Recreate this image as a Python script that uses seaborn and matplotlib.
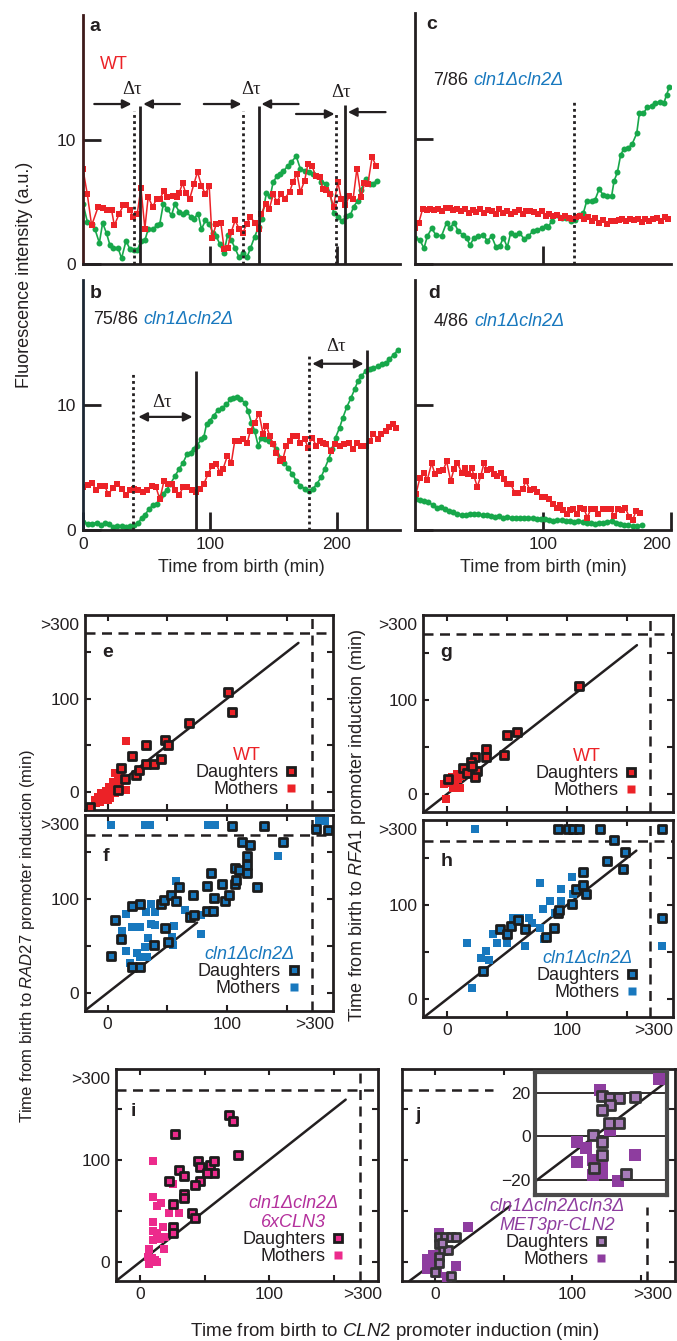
import numpy as np
import pandas as pd
import seaborn as sns
import matplotlib.pyplot as plt
from matplotlib.lines import Line2D
from matplotlib.font_manager import FontProperties

# ---------------- data: time courses (minutes, fluorescence a.u.) ----------------
a_red_t = [0, 3.4, 6.8, 12, 16, 19, 22.6, 24.7, 28.6, 31.8, 34, 37, 39.6, 42.8, 45.7, 48.8, 51.4, 54.9, 58, 60.6,
           63.8, 66.4, 70.6, 73.8, 75.9, 78.5, 81, 84, 87.4, 90.3, 93.4, 96.6, 99.5, 101.8, 105, 108.7, 111.3, 114, 117, 120,
           123, 126, 129, 132, 135.4, 138.6, 140.7, 144, 147, 150, 153, 156.4, 159, 163, 165.6, 168.8, 171.4, 174.8, 177.4, 180.6,
           183.5, 186.6, 189.2, 191.9, 194.5, 197.6, 201, 203.7, 207, 210, 213, 216, 219.4, 222, 224.7, 228, 231]
a_red_v = [7.6, 5.6, 3.1, 4.6, 4.5, 4.3, 4.3, 3.1, 4.05, 4.7, 4.75, 4.3, 3.8, 4.05, 6.1, 2.85, 5.4, 4.6, 5.2, 5.2,
           5.9, 5.4, 5.5, 5.4, 5.7, 6.5, 5.7, 5.2, 6.4, 7.4, 6.3, 5.6, 6.3, 2.05, 3.2, 3.3, 1.2, 1.25, 2.6, 3.5,
           2.85, 2.45, 3.2, 3.8, 3.3, 2.8, 4.05, 4.8, 4.45, 5.6, 5.0, 5.65, 5.25, 5.8, 6.6, 7.25, 5.8, 6.7, 8.05, 7.9,
           7.05, 7.0, 6.05, 5.95, 5.65, 4.6, 6.6, 5.2, 4.7, 5.5, 5.2, 7.65, 5.35, 6.5, 6.45, 8.6, 7.9]
a_grn_t = [0, 3.4, 6.8, 9.4, 12.9, 15.5, 18.6, 21.3, 23.9, 27.8, 30.4, 33.9, 37, 40, 42.8, 45.7, 48.8, 51.4, 55.4, 58,
           60.6, 63.3, 66.4, 69.8, 72.4, 75.9, 78.5, 81.6, 84.8, 87.4, 90.8, 93.4, 96.6, 99.5, 102.6, 105, 107.9, 111, 114, 117,
           120, 123, 126, 129.4, 132, 135.4, 138.6, 141, 144.6, 147.8, 150, 153, 155.6, 158, 161.7, 164.3, 168.2, 171.4, 174.8, 178.2,
           181.4, 184.5, 188, 191.9, 195, 197.6, 201, 204.5, 207.6, 210.8, 213.4, 216.8, 219.4, 222.8, 226, 229, 231.8]
a_grn_v = [4.85, 3.4, 3.2, 2.8, 1.7, 3.3, 2.45, 1.5, 1.25, 1.25, 0.45, 1.85, 1.2, 1.1, 1.1, 1.85, 1.9, 2.8, 2.8, 3.1,
           3.25, 4.8, 4.45, 3.9, 4.8, 4.2, 4.05, 4.2, 3.8, 3.65, 4.05, 2.8, 3.5, 3.25, 2.45, 2.25, 1.6, 0.85, 2.3, 1.9,
           1.25, 0.55, 0.85, 0.55, 1.25, 2.2, 3.0, 3.6, 5.7, 5.5, 6.6, 7.05, 7.2, 7.45, 7.9, 8.2, 8.65, 7.65, 7.5, 7.4,
           7.25, 7.1, 6.6, 6.45, 5.65, 4.1, 3.8, 3.45, 3.85, 3.9, 4.6, 5.1, 5.95, 6.85, 6.4, 6.45, 6.7]

b_red_t = [0.3, 3.7, 7.3, 10.2, 13.4, 17.3, 19.9, 23.9, 27, 30.4, 33.6, 37, 40.2, 43.6, 47, 50.1, 54.1, 57.5, 60.6, 63.8,
           67.2, 70.3, 72.4, 75.9, 79, 82.2, 85.6, 89, 92.1, 95.3, 98.7, 101.8, 105.2, 107.9, 110.5, 113.9, 117, 119.7, 123.1, 126.2,
           129.6, 132, 135.4, 138.8, 142, 144.6, 147.2, 149.9, 152.5, 155.6, 157.7, 160.4, 163, 165.6, 168.8, 171.4, 174.8, 177.4, 180.6, 184,
           186.6, 189.2, 191.9, 195.3, 198.4, 202.4, 205.8, 209.4, 212.9, 216.3, 219.4, 223.4, 226, 229.1, 232.5, 235.2, 238.6, 241.7, 244.4, 247]
b_red_v = [3.45, 3.6, 3.75, 3.2, 3.5, 3.5, 2.85, 3.4, 3.7, 3.3, 2.8, 3.2, 3.3, 3.2, 3.05, 3.2, 3.5, 3.45, 2.45, 3.9,
           3.7, 3.7, 3.2, 2.8, 3.45, 3.45, 3.2, 3.05, 3.3, 3.7, 4.5, 5.15, 5.3, 4.6, 4.9, 5.95, 5.4, 7.15, 7.15, 7.3,
           7.0, 7.95, 8.6, 9.3, 7.7, 8.35, 7.55, 6.9, 6.2, 5.55, 5.7, 6.75, 7.15, 7.55, 7.55, 7.0, 7.3, 6.6, 7.4, 6.75,
           7.15, 7.0, 6.9, 6.35, 6.9, 6.75, 6.9, 6.95, 6.5, 6.95, 6.75, 6.75, 7.15, 7.7, 7.3, 7.7, 7.95, 8.25, 8.45, 8.2]
b_grn_t = [0.3, 3.7, 7.3, 10.8, 13.9, 17.3, 20.7, 23.9, 27, 30.4, 33.9, 37, 40.2, 43.6, 46.2, 48.8, 52.2, 55.4, 58.5, 60.6,
           63.3, 65.9, 69, 72.4, 75.9, 79, 82.2, 84.8, 87.4, 90, 93.4, 95.3, 97.4, 100, 103.1, 106.6, 110, 113.1, 116.3, 118.4,
           121.5, 124.1, 127.6, 130.2, 132.8, 135.4, 138.1, 140.7, 143.3, 146.7, 149.9, 152.5, 155.6, 158.3, 161.7, 164.8, 168.2, 171.4, 174.8, 178.2,
           181.4, 184.5, 187.9, 190.6, 193.8, 196.6, 199.2, 202.4, 205, 208.1, 211.5, 214.2, 216.8, 219.4, 222.8, 226, 229.1, 232.5, 236, 239.1,
           241.7, 244.9, 248.3]
b_grn_v = [0.65, 0.5, 0.5, 0.6, 0.4, 0.55, 0.5, 0.25, 0.3, 0.3, 0.25, 0.3, 0.4, 0.55, 1.0, 1.2, 1.7, 2.0, 2.1, 2.65,
           2.9, 3.2, 3.7, 4.3, 4.9, 5.4, 6.1, 6.2, 6.5, 6.75, 7.3, 7.45, 8.45, 8.75, 9.15, 9.6, 9.8, 10.05, 10.45, 10.6,
           10.65, 10.45, 10.2, 9.5, 8.6, 7.95, 6.75, 7.4, 7.3, 7.15, 6.9, 6.5, 5.8, 5.4, 5.0, 4.5, 3.95, 3.55, 3.3, 3.15,
           3.3, 3.7, 4.25, 4.9, 5.7, 6.5, 7.4, 8.2, 9.0, 9.85, 10.6, 11.25, 11.9, 12.3, 12.7, 12.85, 12.95, 13.1, 13.25, 13.35,
           13.7, 14.0, 14.4]

c_red_t = [0, 3, 6, 9, 12, 15, 18, 21, 24, 27, 30, 33, 36, 39, 42, 45, 48, 51, 54, 57,
           60, 63, 66, 69, 72, 75, 78, 81, 84, 87, 90, 93, 96, 99, 102, 105, 108, 111, 114, 117,
           120, 123, 126, 129, 132, 135, 138, 141, 144, 147, 150, 153, 156, 159, 162, 165, 168, 171, 174, 177,
           180, 183, 186, 189, 192, 195, 198]
c_red_v = [2.9, 3.3, 4.4, 4.3, 4.35, 4.3, 4.4, 4.2, 4.45, 4.5, 4.3, 4.4, 4.2, 4.35, 4.1, 4.3, 4.15, 4.35, 4.1, 4.3,
           4.25, 4.0, 4.35, 4.1, 4.25, 3.95, 4.15, 4.3, 4.0, 4.25, 4.2, 4.15, 4.0, 4.2, 3.8, 3.95, 3.85, 3.9, 3.7, 3.85,
           3.7, 3.6, 3.75, 3.8, 3.6, 3.75, 3.45, 3.65, 3.3, 3.5, 3.2, 3.4, 3.45, 3.5, 3.55, 3.4, 3.6, 3.5, 3.55, 3.35,
           3.6, 3.4, 3.6, 3.7, 3.45, 3.75, 3.6]
c_grn_t = [0, 3.9, 7, 9.6, 13, 16.4, 20.8, 24.7, 27.3, 30.5, 33.9, 37.8, 40.4, 43, 46.1, 49.5, 53.4, 56.5, 59.9, 63.3,
           66.4, 69, 72.1, 74.7, 78.1, 81.5, 85.2, 88.5, 91.9, 95.6, 99, 102.3, 104.2, 106.8, 110.7, 114.6, 118, 121.6, 125, 128.4,
           131.5, 134.1, 138, 140.6, 143.8, 147.1, 150.3, 153.6, 155.5, 158.1, 160.7, 163.3, 166.7, 169.8, 173.2, 175.3, 178.4, 181.5, 184.9, 187.5,
           191.4, 194.5, 196.6, 198.7]
c_grn_v = [2.1, 1.9, 1.25, 2.2, 2.85, 2.3, 2.25, 3.3, 2.85, 3.3, 2.6, 2.3, 2.05, 1.5, 2.1, 2.2, 2.3, 1.85, 2.2, 1.35,
           1.45, 2.1, 1.35, 2.45, 2.3, 2.5, 2.0, 2.2, 2.6, 2.7, 2.85, 3.05, 2.95, 3.45, 3.9, 3.7, 3.65, 3.4, 3.5, 3.9,
           4.05, 5.0, 5.0, 5.1, 5.95, 5.5, 5.45, 5.4, 6.6, 7.3, 8.7, 9.2, 9.25, 9.6, 10.4, 12.0, 12.0, 12.5, 12.6, 12.85,
           12.9, 12.85, 13.5, 14.1]

d_red_t = [0.8, 3.9, 7, 9.6, 13, 15.6, 19, 22.1, 24.7, 27.9, 30.5, 33.1, 36.5, 39.1, 41.7, 44.3, 46.1, 48.7, 51.3, 53.9,
           56.5, 59.1, 61.7, 64.3, 66.9, 69.5, 72.1, 74.7, 78.1, 80.7, 84.1, 86.7, 89.8, 93, 95.6, 99, 101.6, 104.9, 108.1, 110.7,
           113.3, 115.9, 118.5, 121.1, 123.7, 126.3, 128.9, 132, 134.6, 137.2, 140.6, 143.2, 146.6, 149.7, 152.9, 155.5, 158.9, 161.5, 164.1, 167.4,
           170.1, 172.7, 175.8]
d_red_v = [2.9, 4.2, 4.6, 4.0, 5.35, 4.45, 4.75, 4.8, 5.5, 3.9, 4.9, 5.35, 4.6, 5.0, 4.45, 5.0, 4.3, 3.45, 4.3, 5.35,
           4.8, 4.9, 4.5, 4.35, 4.6, 4.1, 3.7, 3.7, 2.95, 2.95, 3.3, 3.9, 3.2, 3.3, 3.05, 2.65, 2.65, 2.5, 2.1, 1.8,
           2.0, 1.6, 1.3, 1.6, 1.65, 1.3, 1.8, 1.7, 1.0, 1.65, 1.65, 1.3, 1.65, 1.7, 1.7, 1.1, 1.7, 1.6, 1.8, 1.05,
           0.8, 1.55, 1.4]
d_grn_t = [0.8, 3.9, 7, 10.4, 13.8, 16.9, 20.1, 23.4, 26.8, 29.9, 33.1, 36.5, 39.8, 43, 46.1, 49.5, 52.9, 56, 59.1, 62.5,
           65.9, 69, 72.1, 75.5, 78.9, 82, 85.2, 88.5, 91.9, 95.1, 98.2, 101.6, 104.9, 108.1, 111.2, 114.6, 118, 121.1, 124.2, 127.6,
           131, 134.1, 137.2, 140.6, 144, 147.1, 150.3, 153.6, 157, 160.2, 163.3, 166.7, 170.1, 173.2, 177.1]
d_grn_v = [2.45, 2.4, 2.35, 2.25, 2.0, 1.8, 1.85, 1.65, 1.55, 1.45, 1.3, 1.2, 1.2, 1.3, 1.25, 1.25, 1.2, 1.2, 1.1, 1.05,
           1.1, 1.0, 1.05, 1.0, 1.0, 0.95, 1.0, 0.95, 0.95, 0.85, 0.9, 0.85, 0.8, 0.75, 0.8, 0.8, 0.75, 0.75, 0.65, 0.75,
           0.65, 0.55, 0.55, 0.5, 0.6, 0.55, 0.65, 0.75, 0.55, 0.5, 0.4, 0.4, 0.3, 0.3, 0.4]

# marked events (minutes): dotted = CLN2 induction, solid = second promoter
a_dotted, a_solid = [40.2, 126, 199.7], [44.9, 138.6, 207]
b_dotted, b_solid = [39.6, 178.2], [89.5, 224]
c_dotted = [124.2]

# ---------------- data: promoter timing scatter (minutes; ~180 stands for >300) ----------------
e_dx = [-15, 8.7, 10.9, 14.8, 20, 23.5, 26.3, 32.5, 32, 39, 45, 48, 50.7, 68.3, 101, 104]
e_dy = [-15.8, 2.2, 26, 14, 38.7, 18.3, 23, 50.5, 29.7, 29.7, 35, 56, 50, 74.5, 107, 86]
e_mx = [15.7, -11, -8, -5.3, -4, -1, 1, 1.7, 4.5, 5.9, 7.3, 3, 6, 8.7, 11.5, 15.7, -6.7, -2.5, 0.3, 10, -9.5]
e_my = [55, -8.6, -5, -1.4, -8.6, 0.4, 5.7, -6.8, 11, -1.4, 7.5, 2, 20, 13, 16.5, 2.2, -10.4, -5, -8.6, 5.7, -12]

g_dx = [110, 49.7, 58, 47, 32, 32, 23, 20, 13.6, 25, 23, 17, 20.5, 1]
g_dy = [114.5, 63, 66, 42, 48, 39, 39, 33.7, 28, 24, 18.4, 22, 30, 16]
g_mx = [-1, 0, 2.5, 6.7, 9.4, 5.3, 10.8, 12, 15, 8, 4, -2.5, 16.4]
g_my = [-5, 11.7, 13, 9.6, 16, 6, 6, 19.5, 23.8, 21, 17.7, 10.6, 22.3]

f_dx = [5.9, 11.5, 3, 20.7, 27, 20.7, 27, 38.7, 48, 50.7, 45, 47, 53.5, 57, 60, 71.7, 69, 72, 83.5, 87,
        83, 88, 89, 95.5, 98, 102, 107, 107, 108, 110, 113, 119, 116.5, 116.5, 116.5, 125.5, 147, 104, 131, 175, 185]
f_dy = [77.7, 57, 39.4, 92.6, 94.7, 28, 28, 51, 68.8, 54, 95.4, 99, 104, 98, 113, 104, 80.5, 83, 114, 128,
        87, 87, 101, 116, 98, 104, 116, 133.7, 121, 131, 161, 158, 146, 137, 128, 113, 161, 178.5, 178.5, 175, 174.5]
f_mx = [15.7, 12.3, 20.7, 27.5, 15.7, 18.5, 24.6, 31, 34, 33, 36.7, 32.5, 40, 39.5, 36, 57, 54.3, 56, 55, 64.7,
        78, 78.7, 143, 27, 3, 31, 35.6, 84, 90, 177, 182]
f_my = [84, 66, 70, 70, 45, 31.6, 42, 49, 58, 38.7, 95.4, 86.5, 86.5, 72, 73, 119.5, 60, 71, 51, 88,
        63, 83, 146, 38.7, 179, 179, 179, 179, 179, 184, 184]

h_dx = [29.7, 44, 50, 53, 59, 65, 82.5, 88.6, 92, 92.8, 104, 107.5, 113, 113, 115.8, 133, 139, 148, 146, 92,
        101, 105, 109.4, 127.5, 179, 179]
h_dy = [29.8, 74.8, 68.8, 77.7, 83.7, 74, 66, 75, 91, 94, 101, 116.7, 121, 135, 111, 147, 169, 155.7, 138, 180,
        180, 180, 180, 180, 180, 86.5]
h_mx = [16.4, 20.5, 28, 32.5, 35, 38, 41.4, 50, 55, 61, 65, 67.8, 70.5, 77, 77.5, 79.7, 80.8, 85.8, 90, 94.7,
        94.7, 104, 105, 111, 23.3, 179]
h_my = [60, 12, 44, 51, 42, 68.8, 60, 60, 86.5, 86, 56.4, 86, 81, 122.7, 75, 95.4, 63.5, 104, 91.8, 104,
        116.7, 129, 112, 115.6, 180, 56.4]

i_dx = [27, 69, 72, 76, 45, 46, 54, 57, 57, 52, 30.5, 34, 46, 42.6, 22, 34, 34, 25.3, 40, 42.6, 25.3, 25.3]
i_dy = [125.5, 144, 137.6, 105, 99, 93, 95, 99, 87.6, 87.6, 90, 84, 79, 75.5, 79, 66.7, 62.4, 57, 48.4, 42.8, 34, 28.8]
i_mx = [9.8, 10.3, 13, 16, 22, 30.5, 10.3, 10.3, 9.8, 13, 18, 15.5, 19.4, 18.6, 7.2, 6.5, 7.2, 11.6, 13.4, 9, 25.8]
i_my = [99, 63.4, 55, 57.5, 48.4, 48.4, 39.5, 30.7, 21.6, 28, 34.6, 23, 24.8, 12.4, 12.4, 5.2, -2, 2, 0.3, 3.6, 76.5]

j_dx = [3.2, 7.3, 11.4, 15.3, 3.2, 6, 9.7, 3.2, 3.2, 0, 12, 4.9]
j_dy = [24, 24, 24, 24, 18, 12, 12, 5, -1.3, -9.5, -13.7, 19]
j_mx = [24.3, 3.2, -6, -6, -1.2, -1.2, 15.3, 8.5, 1.2]
j_my = [34, 28, 2.6, -7, 7, -2, -4, -14.4, -11]
jin_dx = [-0.5, 2.4, 5.3, 8.5, 14, 5.3, 2.4, 5.1, 8.5, 2.4, 2.4, -0.3, 11]
jin_dy = [0.5, 18.3, 17.7, 17.7, 18, 14.2, 12.2, 6.1, 6.1, -2.6, -8.7, -14.4, -17.4]
jin_mx = [22.4, 1.8, 5.3, -6.1, -3, -6.1, -0.7, 2.7, -0.5, 2.4, 8.2, 14]
jin_my = [26.4, 21.4, 2.7, -2.6, -5.6, -11.8, -11, -13.7, -17.9, -16.8, -20.5, -8.7]

# ---------------- style ----------------
INK = '#231f20'
RED = '#ec2227'
GREEN = '#17a74a'
BLUE = '#1878be'
PINK = '#ec2b8c'
PINK_TXT = '#b4309c'
PURPLE = '#8e3d9f'
PURPLE_LT = '#a77bb9'

sns.set_theme(style='ticks')
plt.rcParams['font.family'] = ['Liberation Sans', 'DejaVu Sans']
plt.rcParams['mathtext.fontset'] = 'custom'
plt.rcParams['mathtext.rm'] = 'Liberation Sans'
plt.rcParams['mathtext.it'] = 'Liberation Sans:italic'
plt.rcParams['text.color'] = INK
plt.rcParams['xtick.color'] = INK
plt.rcParams['ytick.color'] = INK

W, H = 677, 1341
fig = plt.figure(figsize=(W / 100, H / 100), dpi=100)


def frame(l, t, r, b):
    return [l / W, 1 - b / H, (r - l) / W, (b - t) / H]


def trace(ax, rt, rv, gt, gv, xmax):
    sns.lineplot(x=gt, y=gv, ax=ax, color=GREEN, marker='o', markersize=4.3, markeredgewidth=0,
                 linewidth=1.2, estimator=None, sort=False)
    sns.lineplot(x=rt, y=rv, ax=ax, color=RED, marker='s', markersize=3.8, markeredgewidth=0,
                 linewidth=1.1, estimator=None, sort=False)
    ax.set_xlim(0, xmax)
    ax.set_ylim(0, 20)
    sns.despine(ax=ax)
    for s in ['left', 'bottom']:
        ax.spines[s].set_linewidth(2)
        ax.spines[s].set_color(INK)
    ax.tick_params(direction='in', length=13, width=2, labelsize=12.5, pad=5)
    ax.set(xlabel='', ylabel='')
    ax.set_facecolor('none')


def vmarks(ax, xs, top, style):
    ls = (0, (1, 1.2)) if style == 'dot' else '-'
    for x, t in zip(xs, top):
        ax.vlines(x, 0, t, colors=INK, linewidth=2, linestyles=ls)


def count_label(ax, x, y, count):
    t1 = ax.text(x, y, count, fontsize=13, ha='left', va='center')
    ax.annotate('cln1Δcln2Δ', xy=(1, 0), xycoords=t1, xytext=(4, 0), textcoords='offset points',
                ha='left', va='bottom', fontsize=13, style='italic', color=BLUE)


tau_font = dict(family=['Liberation Serif', 'DejaVu Serif'], fontsize=13.5, ha='center', va='center')

# panel a
ax = fig.add_axes(frame(83, 15, 400, 264))
trace(ax, a_red_t, a_red_v, a_grn_t, a_grn_v, 250)
ax.spines['left'].set_color('#3d1a1a')
ax.set_yticks([0, 10], labels=['0', '10'])
ax.set_xticks([100, 200], labels=['', ''])
vmarks(ax, a_dotted, [12.3, 12.3, 12.2], 'dot')
vmarks(ax, a_solid, [12.7, 12.7, 12.8], 'solid')
for x0, x1, y in [(8.9, 38.3, 12.85), (76.4, 47.5, 12.85), (95.3, 125, 12.85), (170, 140.7, 12.85),
                  (168, 198.4, 12.05), (238.6, 208.9, 12.2)]:
    ax.annotate('', xy=(x1, y), xytext=(x0, y),
                arrowprops=dict(arrowstyle='-|>', color=INK, lw=1.6, mutation_scale=13, shrinkA=0, shrinkB=0))
for x, y in [(38.3, 14.05), (132.8, 14.05), (203.7, 13.8)]:
    ax.text(x, y, 'Δτ', **tau_font)
ax.text(5, 19.1, 'a', fontsize=14, fontweight='bold', ha='left', va='center')
ax.text(13.4, 16, 'WT', fontsize=13, color=RED, ha='left', va='center')

# panel b
ax = fig.add_axes(frame(83, 280, 400, 530))
trace(ax, b_red_t, b_red_v, b_grn_t, b_grn_v, 250)
ax.spines['left'].set_color('#1c2633')
ax.set_yticks([0, 10], labels=['0', '10'])
ax.set_xticks([0, 100, 200], labels=['0', '100', '200'])
vmarks(ax, b_dotted, [12.6, 14.2], 'dot')
vmarks(ax, b_solid, [12.7, 14.4], 'solid')
for x0, x1, y in [(43.6, 86.4, 9.05), (180.8, 221.3, 13.3)]:
    ax.annotate('', xy=(x1, y), xytext=(x0, y),
                arrowprops=dict(arrowstyle='<|-|>', color=INK, lw=1.6, mutation_scale=13, shrinkA=0, shrinkB=0))
for x, y in [(62, 10.2), (199.7, 14.7)]:
    ax.text(x, y, 'Δτ', **tau_font)
ax.text(5, 18.9, 'b', fontsize=14, fontweight='bold', ha='left', va='center')
count_label(ax, 8.1, 16.8, '75/86')
ax.set_xlabel('Time from birth (min)', fontsize=13, labelpad=5)

# panel c
ax = fig.add_axes(frame(415, 13, 671, 264))
trace(ax, c_red_t, c_red_v, c_grn_t, c_grn_v, 200)
ax.set_yticks([0, 10], labels=['', ''])
ax.set_xticks([100], labels=[''])
vmarks(ax, c_dotted, [13], 'dot')
ax.text(9, 19.1, 'c', fontsize=14, fontweight='bold', ha='left', va='center')
count_label(ax, 14.3, 14.6, '7/86')

# panel d
ax = fig.add_axes(frame(415, 280, 671, 530))
trace(ax, d_red_t, d_red_v, d_grn_t, d_grn_v, 200)
ax.set_yticks([0, 10], labels=['', ''])
ax.set_xticks([100, 200], labels=['100', '200'])
ax.get_xticklabels()[1].set_ha('right')
ax.text(10.4, 18.9, 'd', fontsize=14, fontweight='bold', ha='left', va='center')
count_label(ax, 14.3, 16.7, '4/86')
ax.set_xlabel('Time from birth (min)', fontsize=13, labelpad=5)

fig.text(25 / W, 1 - 275 / H, 'Fluorescence intensity (a.u.)', rotation=90, ha='center', va='center', fontsize=13)


# ---------------- scatter panels ----------------
def cells(ax, dx, dy, mx, my, face, dface, xlim, ylim, cut, diag_end, ox, show_x, show_y,
          s_d=38, s_m=38, edge='#1c1c1c'):
    ax.set_xlim(*xlim)
    ax.set_ylim(*ylim)
    if cut is not None:
        ax.axhline(cut[1], color=INK, lw=1.8, ls=(0, (4, 2.6)), zorder=1)
        ax.axvline(cut[0], color=INK, lw=1.8, ls=(0, (4, 2.6)), zorder=1)
    lo = max(xlim[0], ylim[0])
    ax.plot([lo, diag_end], [lo, diag_end], color=INK, lw=1.8, zorder=2)
    sns.scatterplot(x=mx, y=my, ax=ax, marker='s', s=s_m, color=face, linewidth=0, zorder=3)
    sns.scatterplot(x=dx, y=dy, ax=ax, marker='s', s=s_d, color=dface, edgecolor=edge, linewidth=2, zorder=4)
    ax.set_xticks([0, 100, ox], labels=['0', '100', '>300'])
    ax.set_xticks([50, 150], minor=True)
    ax.set_yticks([0, 100, 180], labels=['0', '100', '>300'])
    ax.set_yticks([50, 150], minor=True)
    ax.tick_params(which='both', direction='in', top=True, right=True, length=4, width=1.5,
                   labelsize=12.5, pad=4, labelbottom=show_x, labelleft=show_y)
    for tk in [ax.xaxis.get_major_ticks()[2], ax.yaxis.get_major_ticks()[2]]:
        tk.tick1line.set_visible(False)
        tk.tick2line.set_visible(False)
    for s in ax.spines.values():
        s.set_linewidth(2)
        s.set_color(INK)
    ax.set(xlabel='', ylabel='')


def key(ax, title, tcolor, face, dface, anchor, italic, edge='#1c1c1c'):
    handles = [Line2D([], [], ls='', marker='s', ms=6.2, mfc=dface, mec=edge, mew=2),
               Line2D([], [], ls='', marker='s', ms=6.2, mfc=face, mec='none')]
    leg = ax.legend(handles, ['Daughters', 'Mothers'], loc='lower right', bbox_to_anchor=anchor,
                    frameon=False, markerfirst=False, handlelength=0.8, handletextpad=0.3,
                    labelspacing=0.0, borderpad=0, borderaxespad=0, fontsize=13, title=title,
                    title_fontproperties=FontProperties(size=13, style='italic' if italic else 'normal'))
    leg.get_title().set_color(tcolor)
    leg.get_title().set_multialignment('center')
    leg.set_zorder(6)


def letter(ax, txt, x, y):
    ax.text(x, y, txt, transform=ax.transAxes, fontsize=14, fontweight='bold', ha='left', va='center')


ax = fig.add_axes(frame(85, 615, 333, 810))
cells(ax, e_dx, e_dy, e_mx, e_my, RED, RED, (-19, 189), (-19.5, 190), (171, 171), 160, 174, False, True)
key(ax, 'WT', RED, RED, RED, (0.86, 0.06), False)
letter(ax, 'e', 0.07, 0.81)

ax = fig.add_axes(frame(85, 815, 333, 1011))
cells(ax, f_dx, f_dy, f_mx, f_my, BLUE, BLUE, (-19, 189), (-19.5, 190), (171, 169), 75, 174, True, True)
key(ax, 'cln1Δcln2Δ', BLUE, BLUE, BLUE, (0.87, 0.07), True)
letter(ax, 'f', 0.07, 0.79)

ax = fig.add_axes(frame(423, 615, 673, 812))
cells(ax, g_dx, g_dy, g_mx, g_my, RED, RED, (-20, 188), (-19, 190), (169, 170), 158, 174, False, True)
key(ax, 'WT', RED, RED, RED, (0.86, 0.065), False)
letter(ax, 'g', 0.07, 0.81)

ax = fig.add_axes(frame(423, 820, 673, 1017))
cells(ax, h_dx, h_dy, h_mx, h_my, BLUE, BLUE, (-20, 188), (-19, 190), (169, 168), 157.5, 172, True, True)
key(ax, 'cln1Δcln2Δ', BLUE, BLUE, BLUE, (0.865, 0.08), True)
letter(ax, 'h', 0.07, 0.79)

ax = fig.add_axes(frame(116, 1069, 378, 1281))
cells(ax, i_dx, i_dy, i_mx, i_my, PINK, PINK, (-18.6, 184), (-18.6, 189), (170, 168), 159, 172, True, True)
key(ax, 'cln1Δcln2Δ\n6xCLN3', PINK_TXT, PINK, PINK, (0.875, 0.075), True)
letter(ax, 'i', 0.055, 0.80)

ax = fig.add_axes(frame(402, 1069, 675, 1281))
cells(ax, j_dx, j_dy, j_mx, j_my, PURPLE, PURPLE_LT, (-24, 175), (-18.6, 189), None, 55, 159, True, False,
      s_m=50, edge='#333333')
ax.hlines(168, -24, 42.6, colors=INK, linewidth=1.8, linestyles=(0, (4, 2.6)), zorder=1)
ax.vlines(154.5, -18.6, 54, colors=INK, linewidth=1.8, linestyles=(0, (4, 2.6)), zorder=1)
key(ax, 'cln1Δcln2Δcln3Δ\nMET3pr-CLN2', PURPLE, PURPLE, PURPLE_LT, (0.815, 0.06), True, edge='#333333')
letter(ax, 'j', 0.05, 0.78)

# inset of j
ax = fig.add_axes(frame(535, 1072, 667, 1195))
ax.set_facecolor('white')
ax.set_xlim(-20.8, 25.2)
ax.set_ylim(-27, 29.5)
for yv in [-20, 0, 20]:
    ax.axhline(yv, color=INK, lw=1.3, zorder=1)
ax.plot([-20.8, 25.2], [-20.8, 25.2], color=INK, lw=1.8, zorder=2)
sns.scatterplot(x=jin_mx, y=jin_my, ax=ax, marker='s', s=75, color=PURPLE, linewidth=0, zorder=3)
sns.scatterplot(x=jin_dx, y=jin_dy, ax=ax, marker='s', s=42, color=PURPLE_LT, edgecolor='#333333',
                linewidth=2, zorder=4)
ax.set_xticks([])
ax.set_yticks([-20, 0, 20], labels=['\u221220', '0', '20'])
ax.tick_params(axis='y', length=0, labelsize=12.5, pad=3)
for s in ax.spines.values():
    s.set_linewidth(3)
    s.set_color('#4a4a4a')
ax.set(xlabel='', ylabel='')

# shared axis titles for the scatter panels
fig.text(28 / W, 1 - 936 / H, r'Time from birth to $\mathit{RAD27}$ promoter induction (min)',
         rotation=90, ha='center', va='center', fontsize=12)
fig.text(358 / W, 1 - 825 / H, r'Time from birth to $\mathit{RFA1}$ promoter induction (min)',
         rotation=90, ha='center', va='center', fontsize=13)
fig.text(395 / W, 1 - 1331 / H, r'Time from birth to $\mathit{CLN2}$ promoter induction (min)',
         ha='center', va='center', fontsize=13.5)

fig.savefig('out.png', dpi=100, facecolor='white')
